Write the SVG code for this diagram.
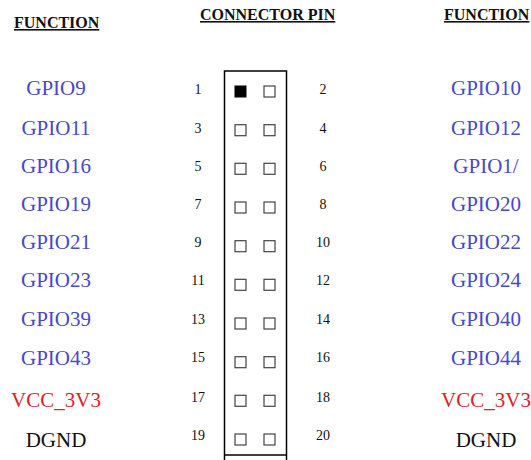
<svg xmlns="http://www.w3.org/2000/svg" width="531" height="460" viewBox="0 0 531 460">
<style>
.hdr{font-family:"Liberation Serif",serif;font-weight:bold;font-size:16px;fill:#111;text-decoration:underline}
.lbl{font-family:"Liberation Serif",serif;font-size:21px;text-anchor:middle}
.gpio{fill:#4848c8}
.pwr{fill:#e0202a}
.gnd{fill:#111}
.num{font-family:"Liberation Serif",serif;font-size:14px;text-anchor:middle;fill:#111}
.pin{fill:#fff;stroke:#444;stroke-width:1.2}
.pin1{fill:#000;stroke:#000;stroke-width:1}
.box{fill:none;stroke:#000;stroke-width:1.5}
</style>
<rect width="531" height="460" fill="#fff"/>
<g id="headers">
<text class="hdr" x="14" y="28">FUNCTION</text>
<text class="hdr" x="200" y="20">CONNECTOR PIN</text>
<text class="hdr" x="444" y="20">FUNCTION</text>
</g>
<g id="connector">
<path class="box" d="M224.5,460 V71 H286.5 V460 M224.5,455 H286.5"/>
</g>
<g id="pins">
<rect class="pin1" x="235" y="86" width="11" height="11"/>
<rect class="pin" x="264" y="86" width="11" height="11"/>
<rect class="pin" x="235" y="124.7" width="11" height="11"/>
<rect class="pin" x="264" y="124.7" width="11" height="11"/>
<rect class="pin" x="235" y="163.3" width="11" height="11"/>
<rect class="pin" x="264" y="163.3" width="11" height="11"/>
<rect class="pin" x="235" y="202" width="11" height="11"/>
<rect class="pin" x="264" y="202" width="11" height="11"/>
<rect class="pin" x="235" y="240.7" width="11" height="11"/>
<rect class="pin" x="264" y="240.7" width="11" height="11"/>
<rect class="pin" x="235" y="279.3" width="11" height="11"/>
<rect class="pin" x="264" y="279.3" width="11" height="11"/>
<rect class="pin" x="235" y="318" width="11" height="11"/>
<rect class="pin" x="264" y="318" width="11" height="11"/>
<rect class="pin" x="235" y="356.7" width="11" height="11"/>
<rect class="pin" x="264" y="356.7" width="11" height="11"/>
<rect class="pin" x="235" y="395.3" width="11" height="11"/>
<rect class="pin" x="264" y="395.3" width="11" height="11"/>
<rect class="pin" x="235" y="434" width="11" height="11"/>
<rect class="pin" x="264" y="434" width="11" height="11"/>
</g>
<g id="numbers">
<text class="num" x="198" y="93.5">1</text><text class="num" x="323" y="93.5">2</text>
<text class="num" x="198" y="133">3</text><text class="num" x="323" y="133">4</text>
<text class="num" x="198" y="171">5</text><text class="num" x="323" y="171">6</text>
<text class="num" x="198" y="209">7</text><text class="num" x="323" y="209">8</text>
<text class="num" x="198" y="247">9</text><text class="num" x="323" y="247">10</text>
<text class="num" x="198" y="285">11</text><text class="num" x="323" y="285">12</text>
<text class="num" x="198" y="324">13</text><text class="num" x="323" y="324">14</text>
<text class="num" x="198" y="362">15</text><text class="num" x="323" y="362">16</text>
<text class="num" x="198" y="402">17</text><text class="num" x="323" y="402">18</text>
<text class="num" x="198" y="440">19</text><text class="num" x="323" y="440">20</text>
</g>
<g id="left-labels">
<text class="lbl gpio" x="56" y="95">GPIO9</text>
<text class="lbl gpio" x="56" y="135">GPIO11</text>
<text class="lbl gpio" x="56" y="173">GPIO16</text>
<text class="lbl gpio" x="56" y="211">GPIO19</text>
<text class="lbl gpio" x="56" y="249">GPIO21</text>
<text class="lbl gpio" x="56" y="287">GPIO23</text>
<text class="lbl gpio" x="56" y="326">GPIO39</text>
<text class="lbl gpio" x="56" y="365">GPIO43</text>
<text class="lbl pwr" x="56" y="407">VCC_3V3</text>
<text class="lbl gnd" x="56" y="447">DGND</text>
</g>
<g id="right-labels">
<text class="lbl gpio" x="486" y="95">GPIO10</text>
<text class="lbl gpio" x="486" y="135">GPIO12</text>
<text class="lbl gpio" x="486" y="173">GPIO1/</text>
<text class="lbl gpio" x="486" y="211">GPIO20</text>
<text class="lbl gpio" x="486" y="249">GPIO22</text>
<text class="lbl gpio" x="486" y="287">GPIO24</text>
<text class="lbl gpio" x="486" y="326">GPIO40</text>
<text class="lbl gpio" x="486" y="365">GPIO44</text>
<text class="lbl pwr" x="486" y="407">VCC_3V3</text>
<text class="lbl gnd" x="486" y="447">DGND</text>
</g>
</svg>
